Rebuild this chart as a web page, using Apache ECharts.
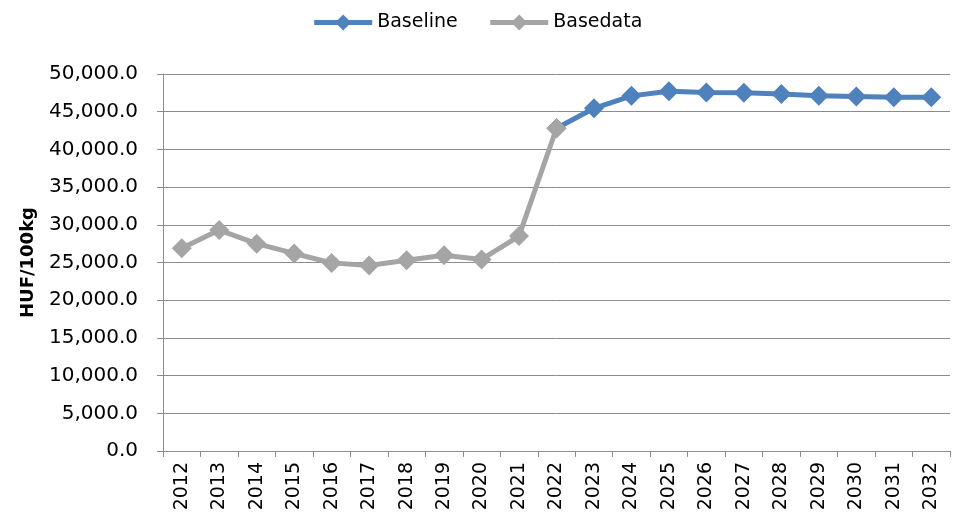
<!DOCTYPE html>
<html>
<head>
<meta charset="utf-8">
<script src="https://cdn.jsdelivr.net/npm/echarts@6/dist/echarts.min.js"></script>
<style>html,body{margin:0;padding:0;background:#fff}#c{width:954px;height:525px}</style>
</head>
<body>
<div id="c"></div>
<script>
const years = ['2012','2013','2014','2015','2016','2017','2018','2019','2020','2021','2022','2023','2024','2025','2026','2027','2028','2029','2030','2031','2032'];
const baseline = [null,null,null,null,null,null,null,null,null,null,42800,45450,47100,47700,47550,47500,47350,47100,47000,46900,46900];
const basedata = [26900,29300,27500,26200,24950,24600,25300,25950,25400,28500,42800,null,null,null,null,null,null,null,null,null,null];
const yTicks = {min:0, max:50000, interval:5000};

const font = 'DejaVu Sans';
const chart = echarts.init(document.getElementById('c'), null, {renderer:'canvas'});
chart.setOption({
  animation:false,
  backgroundColor:'#fff',
  legend:{
    top:8, left:'center', itemWidth:58, itemHeight:20, itemGap:30,
    lineStyle:{width:5},
    textStyle:{fontFamily:font, fontSize:19, color:'#000'},
    data:['Baseline','Basedata']
  },
  grid:{left:163, right:4, top:74, bottom:74},
  xAxis:{
    type:'category', data:years, boundaryGap:true,
    axisLine:{lineStyle:{color:'#8C8C8C', width:1}},
    axisTick:{show:true, length:6, interval:0, lineStyle:{color:'#8C8C8C'}},
    axisLabel:{rotate:90, interval:0, margin:11, fontFamily:font, fontSize:19, color:'#000'}
  },
  yAxis:{
    type:'value', min:yTicks.min, max:yTicks.max, interval:yTicks.interval,
    name:'HUF/100kg', nameLocation:'middle', nameGap:126,
    nameTextStyle:{fontFamily:font, fontSize:18, fontWeight:'bold', color:'#000'},
    axisLine:{show:true, lineStyle:{color:'#8C8C8C', width:1}},
    axisTick:{show:true, length:6, lineStyle:{color:'#8C8C8C'}},
    splitLine:{lineStyle:{color:'#8C8C8C', width:1}},
    axisLabel:{margin:25, fontFamily:font, fontSize:20, color:'#000',
      formatter:v=>v.toLocaleString('en-US',{minimumFractionDigits:1, maximumFractionDigits:1})}
  },
  series:[
    {name:'Baseline', type:'line', data:baseline, symbol:'diamond', symbolSize:20,
     lineStyle:{color:'#4F81BD', width:5}, itemStyle:{color:'#4F81BD'}, z:2},
    {name:'Basedata', type:'line', data:basedata, symbol:'diamond', symbolSize:20,
     lineStyle:{color:'#A5A5A5', width:5}, itemStyle:{color:'#A5A5A5'}, z:3}
  ]
});
</script>
</body>
</html>
